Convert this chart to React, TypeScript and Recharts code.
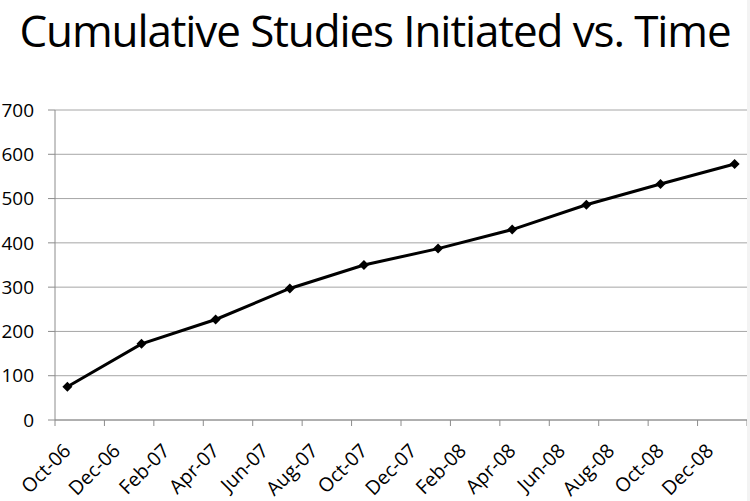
import React from 'react';
import { LineChart, Line, XAxis, YAxis, CartesianGrid } from 'recharts';

// Quarterly cumulative counts (date axis, month base unit)
const dates = ['Oct-06', 'Jan-07', 'Apr-07', 'Jul-07', 'Oct-07', 'Jan-08', 'Apr-08', 'Jul-08', 'Oct-08', 'Jan-09'];
const studies = [75, 172, 227, 297, 350, 387, 430, 486, 533, 578];

const tickLabels = [
  'Oct-06', 'Dec-06', 'Feb-07', 'Apr-07', 'Jun-07', 'Aug-07', 'Oct-07',
  'Dec-07', 'Feb-08', 'Apr-08', 'Jun-08', 'Aug-08', 'Oct-08', 'Dec-08',
];
const yTicks = [0, 100, 200, 300, 400, 500, 600, 700];

const MONTHS = ['Jan', 'Feb', 'Mar', 'Apr', 'May', 'Jun', 'Jul', 'Aug', 'Sep', 'Oct', 'Nov', 'Dec'];

// months since Oct-06
function monthIndex(label: string): number {
  const [m, y] = label.split('-');
  return (2000 + Number(y) - 2006) * 12 + MONTHS.indexOf(m) - 9;
}

const data = dates.map((d, i) => ({ x: monthIndex(d) + 0.5, value: studies[i] }));
const domainEnd = monthIndex(dates[dates.length - 1]) + 1;
const xTicks = [...tickLabels.map(monthIndex), domainEnd];
const labelByIndex = new Map(tickLabels.map((l) => [monthIndex(l), l]));

const FONT = '"Open Sans", sans-serif';

function DateTick({ x, y, payload }: any) {
  const label = labelByIndex.get(payload.value);
  if (!label) return null;
  const ax = x + 17;
  const ay = y + 24;
  return (
    <text
      x={ax}
      y={ay}
      textAnchor="end"
      fontSize={19.5}
      fontFamily={FONT}
      fill="#000"
      transform={`rotate(-45 ${ax} ${ay})`}
    >
      {label}
    </text>
  );
}

function Diamond({ cx, cy }: any) {
  if (cx == null || cy == null) return null;
  const r = 5;
  return (
    <polygon
      points={`${cx},${cy - r} ${cx + r},${cy} ${cx},${cy + r} ${cx - r},${cy}`}
      fill="#000"
    />
  );
}

export default function App() {
  return (
    <div style={{ position: 'absolute', left: 0, top: 0, width: 750, height: 501, background: '#fff' }}>
      <div style={{ position: 'absolute', left: 0, top: 0 }}>
        <LineChart width={750} height={501} data={data} margin={{ top: 110, right: 3, bottom: 0, left: 0 }}>
          <CartesianGrid vertical={false} stroke="#a6a6a6" strokeWidth={1} />
          <XAxis
            dataKey="x"
            type="number"
            domain={[0, domainEnd]}
            ticks={xTicks}
            interval={0}
            height={81}
            stroke="#8c8c8c"
            tickSize={6}
            tick={<DateTick />}
            allowDataOverflow
          />
          <YAxis
            type="number"
            domain={[0, 700]}
            ticks={yTicks}
            interval={0}
            width={55}
            stroke="#8c8c8c"
            tickSize={7}
            tickMargin={14}
            tick={{ fontSize: 19, fontFamily: FONT, fill: '#000' }}
          />
          <Line
            dataKey="value"
            stroke="#000"
            strokeWidth={3}
            dot={<Diamond />}
            activeDot={false}
            isAnimationActive={false}
          />
        </LineChart>
      </div>
      <div
        style={{
          position: 'absolute',
          left: 0,
          top: 0,
          width: 750,
          height: 62,
          textAlign: 'center',
          whiteSpace: 'nowrap',
          fontFamily: FONT,
          fontSize: 44,
          letterSpacing: -1.1,
          lineHeight: '60px',
          color: '#000',
          zIndex: 2,
        }}
      >
        Cumulative Studies Initiated vs. Time
      </div>
      <div
        style={{
          position: 'absolute',
          right: 0,
          top: 0,
          width: 3,
          height: 501,
          background: '#f3f3f3',
          pointerEvents: 'none',
        }}
      />
    </div>
  );
}
